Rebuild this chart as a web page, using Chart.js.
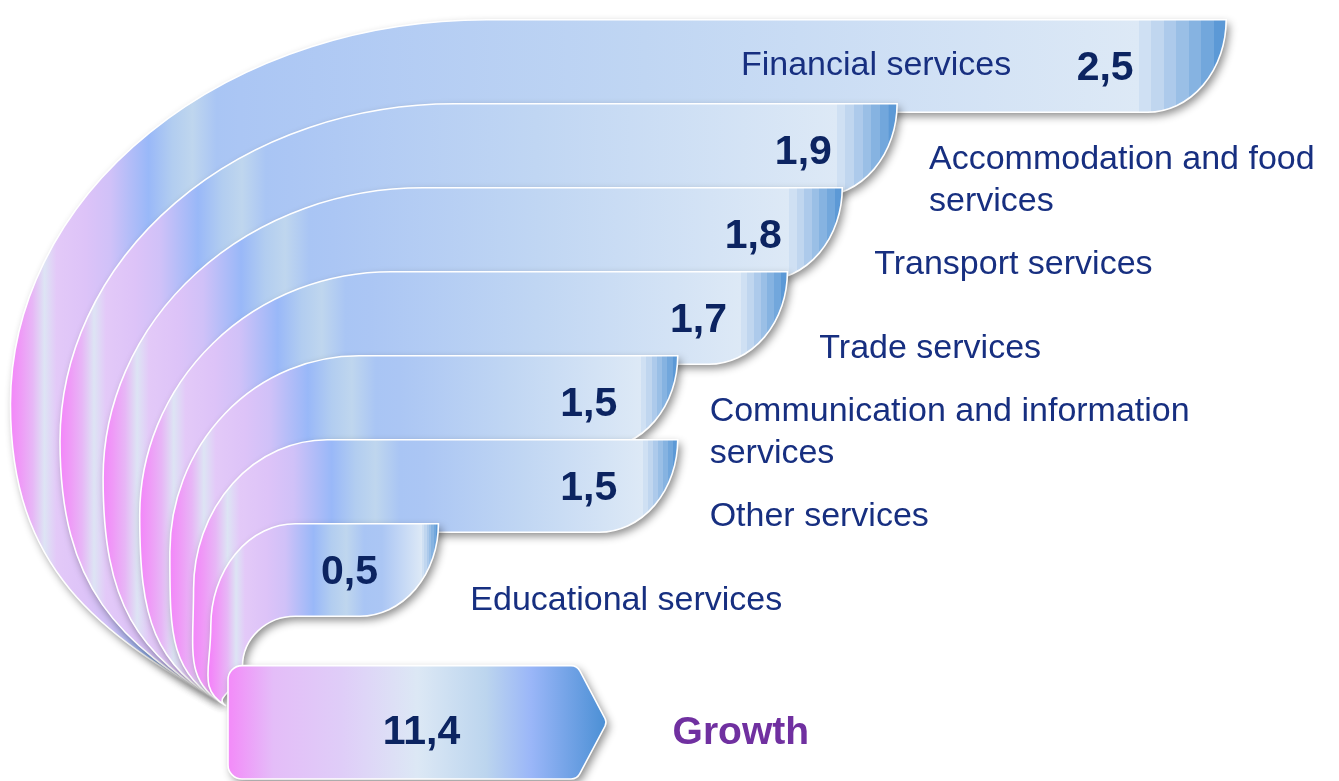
<!DOCTYPE html>
<html><head><meta charset="utf-8">
<script src="https://cdn.jsdelivr.net/npm/chart.js@4.4.1/dist/chart.umd.min.js"></script>
<style>html,body{margin:0;padding:0;background:#fff;overflow:hidden}canvas{display:block}</style>
</head><body>
<canvas id="c" width="1339" height="781"></canvas>
<script>
// ---- data ----
const categories = ['Financial services', 'Accommodation and food services', 'Transport services', 'Trade services', 'Communication and information services', 'Other services', 'Educational services'];
const values = [2.5, 1.9, 1.8, 1.7, 1.5, 1.5, 0.5];
const totalLabel = 'Growth';
const totalValue = 11.4;
const rowLabels = [...categories, '', totalLabel];

// ---- style ----
const FONT = '"Liberation Sans", Arial, sans-serif';
const LABEL_FONT = '34px ' + FONT;
const VALUE_FONT = 'bold 41px ' + FONT;
const GROWTH_FONT = 'bold 39px ' + FONT;
const LABEL_COLOR = '#172f80';
const VALUE_COLOR = '#0c2461';
const GROWTH_COLOR = '#7030a0';
const fmt = v => v.toFixed(1).replace('.', ',');

function stripeWidth(w) { return 0.072 * w; }

function bandGradient(ctx, x0, x1) {
  const w = x1 - x0;
  const g = ctx.createLinearGradient(x0, 0, x1, 0);
  const rightW = stripeWidth(w);
  const leftSpan = 230;
  const k = Math.min(1, (w - rightW - 40) / leftSpan);
  const t = px => Math.max(0, Math.min(1, px / w));
  const left = [[0,'#f386f9'],[10,'#ef9af7'],[22,'#e7b6f6'],[34,'#dde4f4'],[46,'#e3c9f8'],[75,'#ddc3f8'],[100,'#d0c1f8'],[118,'#b5bdf8'],[138,'#99b8f8'],[162,'#b2cdf0'],[182,'#bfd6ee'],[206,'#a9c5f4'],[230,'#abc6f4']];
  left.forEach(([p, c]) => g.addColorStop(t(p * k), c));
  const midStart = leftSpan * k, midEnd = w - rightW;
  if (midEnd - midStart > 60) g.addColorStop(t(midStart + (midEnd - midStart) * 0.45), '#c0d6f3');
  g.addColorStop(t(midEnd), '#dde9f6');
  const stripes = ['#cfe0f3','#c0d6ef','#adcaeb','#9abfe6','#86b3e1','#72a7dc','#5c99d6'];
  const sw = rightW / stripes.length;
  stripes.forEach((c, i) => { g.addColorStop(t(midEnd + i * sw + 0.01), c); g.addColorStop(t(midEnd + (i + 1) * sw - 0.01), c); });
  return g;
}

function wrapText(ctx, text, maxW) {
  const words = text.split(' '); const lines = []; let cur = '';
  for (const w of words) {
    const test = cur ? cur + ' ' + w : w;
    if (ctx.measureText(test).width > maxW && cur) { lines.push(cur); cur = w; } else cur = test;
  }
  if (cur) lines.push(cur);
  return lines;
}

const fanPlugin = {
  id: 'fanBands',
  afterDatasetsDraw(chart) {
    const ctx = chart.ctx;
    const xs = chart.scales.x, x2 = chart.scales.x2, ys = chart.scales.y;
    const s = ys.getPixelForValue(1) - ys.getPixelForValue(0);
    const th = 1.1 * s;
    const rr = 0.85 * th;
    const gC = ys.getPixelForValue(rowLabels.length - 1);
    const gBottom = gC + s / 2 - 1;
    const gTop = gBottom - 1.35 * s;
    const gLeft = x2.getPixelForValue(0);
    const gRight = x2.getPixelForValue(totalValue);
    const O = { x: gLeft - 2, y: gTop + 0.48 * s };
    const geo = h => ({ flat: O.x + 0.38 * h, lx: O.x - h * h / (26 * s), ly: O.y - 0.44 * h });
    const ctrl = (lx, ly) => {
      const d = Math.hypot(O.x - lx, O.y - ly), m = 0.4 * d;
      return { p1: { x: lx, y: ly + 0.55 * (O.y - ly) }, p2: { x: O.x - m * 0.866, y: O.y - m * 0.5 } };
    };
    const bands = values.map((v, i) => {
      const C = ys.getPixelForValue(i);
      const T = C - th / 2, B = C + th / 2;
      const out = geo(O.y - T);
      const inn = geo(O.y - B); inn.flat += 0.42 * s; inn.lx += 0.24 * s;
      let E = xs.getPixelForValue(v);
      E = Math.max(E, out.flat + 1.55 * th);
      return { i, v, C, T, B, E, out, inn };
    });

    ctx.save();
    bands.forEach(b => {
      const { T, B, E, out, inn } = b;
      const oc = ctrl(out.lx, out.ly), ic = ctrl(inn.lx, inn.ly);
      ctx.beginPath();
      ctx.moveTo(O.x, O.y);
      ctx.bezierCurveTo(oc.p2.x, oc.p2.y, oc.p1.x, oc.p1.y, out.lx, out.ly);
      ctx.ellipse(out.flat, out.ly, out.flat - out.lx, out.ly - T, 0, Math.PI, 1.5 * Math.PI, false);
      ctx.lineTo(E, T);
      ctx.ellipse(E - rr, T, rr, B - T, 0, 0, 0.5 * Math.PI, false);
      ctx.lineTo(inn.flat, B);
      ctx.ellipse(inn.flat, inn.ly, inn.flat - inn.lx, inn.ly - B, 0, 1.5 * Math.PI, Math.PI, true);
      ctx.bezierCurveTo(ic.p1.x, ic.p1.y, ic.p2.x, ic.p2.y, O.x, O.y);
      ctx.closePath();
      ctx.shadowColor = 'rgba(0,0,0,0.45)';
      ctx.shadowBlur = 8; ctx.shadowOffsetX = 3; ctx.shadowOffsetY = 4;
      ctx.fillStyle = bandGradient(ctx, out.lx, E);
      ctx.fill();
      ctx.shadowColor = 'rgba(0,0,0,0)';
      ctx.strokeStyle = '#ffffff'; ctx.lineWidth = 1.6;
      ctx.stroke();
      b.stripe = stripeWidth(E - out.lx);
    });

    // growth arrow box
    const gMid = (gTop + gBottom) / 2;
    const tipW = 30;
    ctx.beginPath();
    ctx.moveTo(gLeft + 14, gTop);
    ctx.arcTo(gRight - tipW, gTop, gRight, gMid, 10);
    ctx.arcTo(gRight, gMid, gRight - tipW, gBottom, 8);
    ctx.arcTo(gRight - tipW, gBottom, gLeft, gBottom, 10);
    ctx.arcTo(gLeft, gBottom, gLeft, gTop, 14);
    ctx.arcTo(gLeft, gTop, gRight, gTop, 14);
    ctx.closePath();
    const gg = ctx.createLinearGradient(gLeft, 0, gRight, 0);
    [[0,'#f38af9'],[0.12,'#e4bdf8'],[0.3,'#dfcdf8'],[0.5,'#dce8f5'],[0.68,'#bcd5ee'],[0.8,'#9ab6f8'],[1,'#4a8fd4']].forEach(([p, c]) => gg.addColorStop(p, c));
    ctx.shadowColor = 'rgba(0,0,0,0.45)';
    ctx.shadowBlur = 8; ctx.shadowOffsetX = 3; ctx.shadowOffsetY = 4;
    ctx.fillStyle = gg; ctx.fill();
    ctx.shadowColor = 'rgba(0,0,0,0)';
    ctx.strokeStyle = '#ffffff'; ctx.lineWidth = 1.6; ctx.stroke();

    // texts
    const W = chart.width;
    bands.forEach(b => {
      ctx.font = VALUE_FONT; ctx.fillStyle = VALUE_COLOR;
      ctx.textAlign = 'right'; ctx.textBaseline = 'middle';
      const vr = b.E - Math.max(0.72 * s, b.stripe + 5);
      const vtxt = fmt(b.v);
      ctx.fillText(vtxt, vr, b.C + 3);
      const vLeft = vr - ctx.measureText(vtxt).width;

      ctx.font = LABEL_FONT; ctx.fillStyle = LABEL_COLOR;
      const lx = b.E + 0.38 * s;
      const maxW = Math.min(6 * s, W - lx - 2);
      const lines = wrapText(ctx, categories[b.i], maxW);
      const fits = maxW > 0 && lines.every(l => ctx.measureText(l).width <= maxW);
      if (fits) {
        const lh = 42;
        ctx.textAlign = 'left';
        const y0 = b.C + 0.36 * s - (lines.length - 1) * lh / 2;
        lines.forEach((l, j) => ctx.fillText(l, lx, y0 + j * lh));
      } else {
        ctx.textAlign = 'right';
        ctx.fillText(categories[b.i], vLeft - 0.78 * s, b.C);
      }
    });
    ctx.font = VALUE_FONT; ctx.fillStyle = VALUE_COLOR; ctx.textAlign = 'center'; ctx.textBaseline = 'middle';
    ctx.fillText(fmt(totalValue), (gLeft + gRight) / 2 + 4, gMid + 10);
    ctx.font = GROWTH_FONT; ctx.fillStyle = GROWTH_COLOR; ctx.textAlign = 'left';
    ctx.fillText(totalLabel, gRight + 0.78 * s, gMid + 11);
    ctx.restore();
  }
};

new Chart(document.getElementById('c'), {
  type: 'bar',
  data: {
    labels: rowLabels,
    datasets: [
      { data: [...values, null, null], xAxisID: 'x', yAxisID: 'y', backgroundColor: 'rgba(0,0,0,0)', borderWidth: 0 },
      { data: [...values.map(() => null), null, totalValue], xAxisID: 'x2', yAxisID: 'y', backgroundColor: 'rgba(0,0,0,0)', borderWidth: 0 }
    ]
  },
  options: {
    indexAxis: 'y',
    responsive: false,
    animation: false,
    events: [],
    layout: { padding: { left: 228, right: 47, top: 24, bottom: 1 } },
    plugins: { legend: { display: false }, tooltip: { enabled: false } },
    scales: {
      x: { display: false, min: 0.68, max: 2.62 },
      x2: { display: false, min: 0, max: 32, position: 'top' },
      y: { display: false, offset: true, grid: { display: false } }
    }
  },
  plugins: [fanPlugin]
});
</script>
</body></html>
